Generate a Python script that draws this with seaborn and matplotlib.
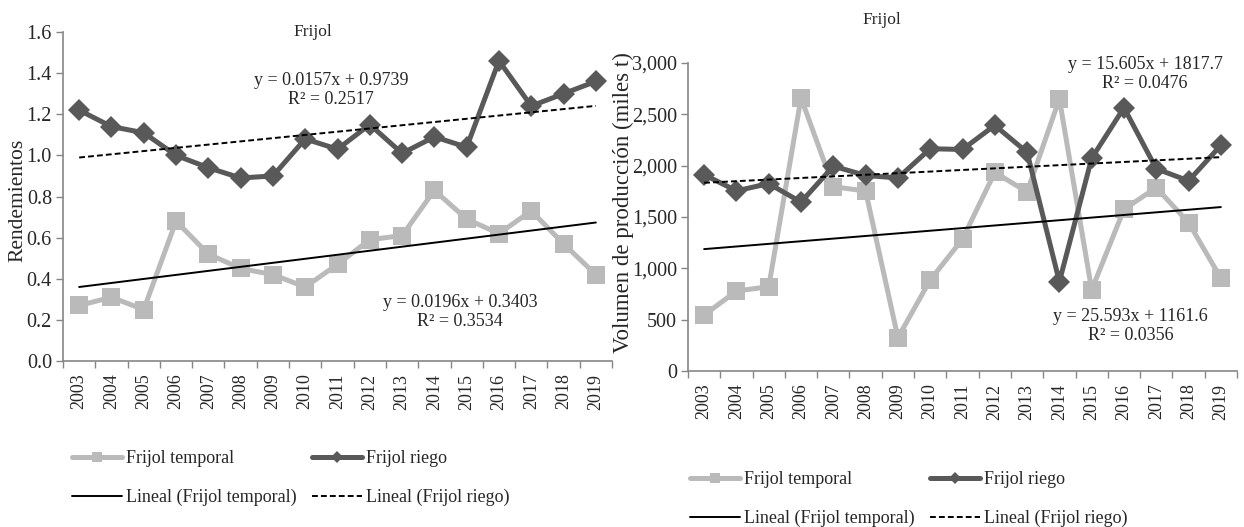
import matplotlib
matplotlib.use("Agg")
import matplotlib.pyplot as plt
import seaborn as sns
import numpy as np
import pandas as pd
from matplotlib.ticker import FuncFormatter, FixedLocator

# ---------------- data ----------------
years = [str(y) for y in range(2003, 2020)]
rend_temporal = [0.27, 0.31, 0.25, 0.68, 0.52, 0.45, 0.42, 0.36, 0.47, 0.59, 0.61, 0.83, 0.69, 0.62, 0.73, 0.57, 0.42]
rend_riego = [1.22, 1.14, 1.11, 1.00, 0.94, 0.89, 0.90, 1.08, 1.03, 1.15, 1.01, 1.09, 1.04, 1.46, 1.24, 1.30, 1.36]
vol_temporal = [545, 779, 821, 2660, 1795, 1753, 325, 886, 1285, 1935, 1744, 2650, 790, 1575, 1786, 1445, 905]
vol_riego = [1912, 1755, 1825, 1645, 1995, 1905, 1880, 2165, 2158, 2393, 2130, 870, 2072, 2565, 1970, 1852, 2198]

# trend equations shown on the chart (slope, intercept, R2)
rend_trend_temporal = (0.0196, 0.3403, 0.3534)
rend_trend_riego = (0.0157, 0.9739, 0.2517)
vol_trend_temporal = (25.593, 1161.6, 0.0356)
vol_trend_riego = (15.605, 1817.7, 0.0476)

titles = ["Frijol", "Frijol"]
ylabels = ["Rendemientos", "Volumen de producción (miles t)"]
series_names = ["Frijol temporal", "Frijol riego"]
trend_names = ["Lineal (Frijol temporal)", "Lineal (Frijol riego)"]

# ---------------- style ----------------
sns.set_theme(style="white")
plt.rcParams["font.family"] = ["Liberation Serif", "DejaVu Serif"]

C_TEMP = "#bababa"
C_RIEGO = "#595959"
C_AXIS = "#868686"
FS = 12.5

W, H = 1244, 527
fig = plt.figure(figsize=(W / 100, H / 100), dpi=100)
ax1 = fig.add_axes([63 / W, 1 - 361 / H, 549 / W, 329 / H])
ax2 = fig.add_axes([688 / W, 1 - 371 / H, 549 / W, 308 / H])

def draw(ax, temporal, riego, tr_t, tr_r):
    idx = np.arange(len(years))
    df = pd.DataFrame({"x": idx, "temporal": temporal, "riego": riego})
    sns.lineplot(data=df, x="x", y="temporal", ax=ax, color=C_TEMP, lw=3.6,
                 marker="s", markersize=13, markeredgewidth=0, label=series_names[0], zorder=3)
    sns.lineplot(data=df, x="x", y="riego", ax=ax, color=C_RIEGO, lw=3.6,
                 marker="D", markersize=11.5, markeredgewidth=0, label=series_names[1], zorder=3)
    xt = idx + 1
    df["trend_t"] = tr_t[0] * xt + tr_t[1]
    df["trend_r"] = tr_r[0] * xt + tr_r[1]
    sns.lineplot(data=df, x="x", y="trend_t", ax=ax, color="black", lw=1.4,
                 label=trend_names[0], zorder=4)
    sns.lineplot(data=df, x="x", y="trend_r", ax=ax, color="black", lw=1.4,
                 linestyle=(0, (3, 1.6)), label=trend_names[1], zorder=4)
    ax.set_xlim(-0.5, len(years) - 0.5)
    ax.set_xticks(idx)
    ax.set_xticklabels(years, rotation=90, fontsize=13)
    ax.xaxis.set_minor_locator(FixedLocator(np.arange(-0.5, len(years), 1.0)))
    ax.tick_params(axis="x", which="major", length=0, pad=9)
    ax.tick_params(axis="x", which="minor", length=5, width=1, color=C_AXIS, direction="out", bottom=True)
    ax.tick_params(axis="y", which="major", length=5, width=1, color=C_AXIS, direction="out",
                   left=True, labelsize=14.5, pad=3)
    for s in ["top", "right"]:
        ax.spines[s].set_visible(False)
    for s in ["left", "bottom"]:
        ax.spines[s].set_color(C_AXIS)
        ax.spines[s].set_linewidth(1.2)
    ax.set_xlabel("")
    ax.set_ylabel("")
    ax.grid(False)
    ax.get_legend().remove()

draw(ax1, rend_temporal, rend_riego, rend_trend_temporal, rend_trend_riego)
draw(ax2, vol_temporal, vol_riego, vol_trend_temporal, vol_trend_riego)

ax1.set_ylim(0, 1.6)
ax1.set_yticks(np.arange(0, 1.61, 0.2))
ax1.yaxis.set_major_formatter(FuncFormatter(lambda v, p: f"{v:.1f}"))
ax2.set_ylim(0, 3000)
ax2.set_yticks(np.arange(0, 3001, 500))
ax2.yaxis.set_major_formatter(FuncFormatter(lambda v, p: f"{int(v):,}"))

fig.text(18 / W, 1 - 200 / H, ylabels[0], rotation=90, ha="center", va="center", fontsize=15.5)
fig.text(623 / W, 1 - 203 / H, ylabels[1], rotation=90, ha="center", va="center", fontsize=16.5)

fig.text(313 / W, 1 - 32 / H, titles[0], ha="center", va="center", fontsize=FS)
fig.text(882 / W, 1 - 20 / H, titles[1], ha="center", va="center", fontsize=FS)

def eq(ax, x, y, tr):
    ax.text(x, y, f"y = {tr[0]}x + {tr[1]}\nR² = {tr[2]}", ha="center", va="center",
            fontsize=FS + 0.5, linespacing=1.15, zorder=5)

eq(ax1, 7.8, 1.32, rend_trend_riego)
eq(ax1, 11.8, 0.236, rend_trend_temporal)
eq(ax2, 13.65, 2895, vol_trend_riego)
eq(ax2, 13.2, 435, vol_trend_temporal)

def make_legend(ax, x, y):
    h, l = ax.get_legend_handles_labels()
    order = [0, 2, 1, 3]
    fig.legend([h[i] for i in order], [l[i] for i in order], ncol=2,
               loc="upper left", bbox_to_anchor=(x / W, 1 - y / H),
               frameon=False, fontsize=FS + 0.5, handlelength=2.75, handletextpad=0.25,
               columnspacing=0.85, labelspacing=1.2, markerscale=0.5, borderaxespad=0,
               borderpad=0)

make_legend(ax1, 72, 450)
make_legend(ax2, 690, 471)

fig.savefig("out.png", dpi=100)
